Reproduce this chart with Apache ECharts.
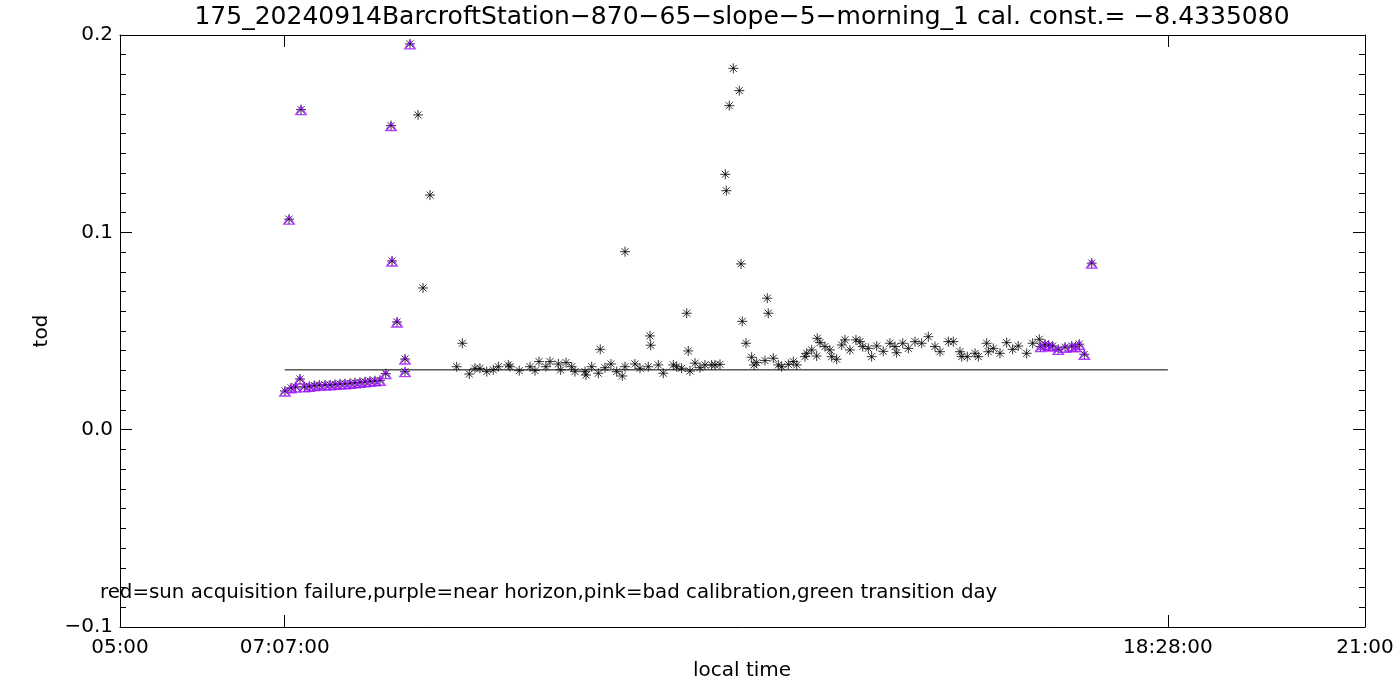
<!DOCTYPE html>
<html>
<head>
<meta charset="utf-8">
<script src="https://cdn.jsdelivr.net/npm/echarts@6/dist/echarts.min.js"></script>
<style>html,body{margin:0;padding:0;background:#fff}#c{width:1400px;height:700px}</style>
</head>
<body>
<div id="c"></div>
<script>
// ---- data (time in decimal hours local time, tod values) ----
const titleText = "175_20240914BarcroftStation\u2212870\u221265\u2212slope\u22125\u2212morning_1 cal. const.= \u22128.4335080";
const noteText = "red=sun acquisition failure,purple=near horizon,pink=bad calibration,green transition day";
const xTickValues = [5, 7.1167, 18.4667, 21];
const xTickLabels = ["05:00", "07:07:00", "18:28:00", "21:00"];
const yTickValues = [-0.1, 0.0, 0.1, 0.2];

const purpleHours = [7.120, 7.172, 7.198, 7.258, 7.313, 7.326, 7.369, 7.433, 7.497, 7.561, 7.634, 7.699, 7.763, 7.827, 7.891, 7.956, 8.020, 8.084, 8.149, 8.213, 8.277, 8.341, 8.415, 8.483, 8.496, 8.560, 8.663, 8.663, 8.727,
  16.832, 16.887, 16.935, 16.986, 17.058, 17.145, 17.231, 17.280, 17.328, 17.393, 17.488];
const purpleTod = [0.0196, 0.1067, 0.0212, 0.0217, 0.0257, 0.1622, 0.0217, 0.0220, 0.0224, 0.0226, 0.0227, 0.0227, 0.0230, 0.0232, 0.0233, 0.0235, 0.0238, 0.0240, 0.0243, 0.0246, 0.0248, 0.0250, 0.0284, 0.1541, 0.0855, 0.0546, 0.0358, 0.0294, 0.1955,
  0.0421, 0.0433, 0.0428, 0.0424, 0.0407, 0.0418, 0.0424, 0.0420, 0.0433, 0.0382, 0.0844];

const blackHours = [8.830, 8.894, 8.984,
  9.327, 9.399, 9.489, 9.562, 9.626, 9.713, 9.797, 9.862, 9.990, 10.012, 10.131, 10.269, 10.333, 10.385, 10.474, 10.526, 10.633, 10.663, 10.732, 10.805, 10.847, 10.976, 10.989,
  11.062, 11.147, 11.172, 11.233, 11.310, 11.383, 11.455, 11.490, 11.490, 11.618, 11.683, 11.789, 11.811, 11.820, 11.918, 11.982,
  12.111, 12.154, 12.218, 12.283, 12.303, 12.325, 12.390, 12.454, 12.518, 12.604, 12.647, 12.711, 12.779, 12.792, 12.830, 12.882, 12.959, 12.981, 12.997,
  13.045, 13.118, 13.148, 13.182, 13.289, 13.318, 13.331, 13.396, 13.460, 13.503, 13.589, 13.653, 13.697, 13.803, 13.825, 13.889, 13.953, 13.961, 13.996,
  14.060, 14.124, 14.146, 14.210, 14.275, 14.317, 14.381, 14.458, 14.510, 14.545, 14.617, 14.660, 14.725, 14.809, 14.895, 14.960, 14.981,
  15.059, 15.131, 15.217, 15.303, 15.388, 15.474, 15.538, 15.645, 15.709, 15.795, 15.817, 15.889, 15.988,
  16.030, 16.138, 16.159, 16.223, 16.309, 16.395, 16.472, 16.544, 16.652, 16.729, 16.814];
const blackTod = [0.1595, 0.0718, 0.1189,
  0.0319, 0.0438, 0.0282, 0.0311, 0.0311, 0.0294, 0.0303, 0.0319, 0.0328, 0.0319, 0.0299, 0.0319, 0.0299, 0.0345, 0.0319, 0.0345, 0.0333, 0.0303, 0.0340, 0.0319, 0.0294, 0.0294, 0.0277,
  0.0319, 0.0286, 0.0407, 0.0314, 0.0333, 0.0294, 0.0272, 0.0902, 0.0319, 0.0333, 0.0311, 0.0319, 0.0475, 0.0428, 0.0328, 0.0286,
  0.0328, 0.0319, 0.0311, 0.0590, 0.0399, 0.0297, 0.0337, 0.0314, 0.0328, 0.0328, 0.0328, 0.0331, 0.1294, 0.1211, 0.1642, 0.1831, 0.1718, 0.0840, 0.0549,
  0.0438, 0.0367, 0.0328, 0.0340, 0.0350, 0.0666, 0.0590, 0.0362, 0.0328, 0.0319, 0.0331, 0.0345, 0.0328, 0.0370, 0.0387, 0.0404, 0.0373, 0.0463, 0.0441,
  0.0421, 0.0404, 0.0370, 0.0357, 0.0429, 0.0455, 0.0404, 0.0455, 0.0446, 0.0421, 0.0412, 0.0370, 0.0424, 0.0397, 0.0438, 0.0421, 0.0390,
  0.0438, 0.0412, 0.0446, 0.0438, 0.0471, 0.0421, 0.0395, 0.0446, 0.0446, 0.0395, 0.0370, 0.0370, 0.0387,
  0.0370, 0.0438, 0.0395, 0.0412, 0.0387, 0.0441, 0.0407, 0.0424, 0.0387, 0.0438, 0.0458];

const refLineHours = [7.1167, 18.4667];
const refLineTod = [0.0303, 0.0303];

// ---- chart ----
const zip = (a, b) => a.map((v, i) => [v, b[i]]);
const font = "DejaVu Sans";
const star = 'path://M5 0L5 10M0 5L10 5M1.5 1.5L8.5 8.5M1.5 8.5L8.5 1.5';
const purple = '#9b10ff';
const xFmt = v => { let best = 0; xTickValues.forEach((t, i) => { if (Math.abs(t - v) < Math.abs(xTickValues[best] - v)) best = i; }); return xTickLabels[best]; };
const yFmt = v => { const s = (Math.abs(v) < 1e-9 ? 0 : v).toFixed(1); return s.replace('-', '\u2212'); };

const axisLineStyle = { show: true, onZero: false, lineStyle: { color: '#000', width: 1 } };
const chart = echarts.init(document.getElementById('c'), null, { renderer: 'canvas' });
chart.setOption({
  animation: false,
  backgroundColor: '#fff',
  grid: { left: 120, right: 35, top: 35, bottom: 73 },
  xAxis: [
    { type: 'value', min: 5, max: 21, position: 'bottom',
      axisLine: axisLineStyle,
      axisTick: { show: true, inside: true, length: 12, customValues: xTickValues, lineStyle: { color: '#000' } },
      axisLabel: { show: true, customValues: xTickValues, formatter: xFmt, margin: 11, color: '#000', fontFamily: font, fontSize: 20 },
      splitLine: { show: false } },
    { type: 'value', min: 5, max: 21, position: 'top',
      axisLine: axisLineStyle,
      axisTick: { show: true, inside: true, length: 12, customValues: xTickValues, lineStyle: { color: '#000' } },
      axisLabel: { show: false }, splitLine: { show: false } }
  ],
  yAxis: [
    { type: 'value', min: -0.1, max: 0.2, interval: 0.1, position: 'left',
      axisLine: axisLineStyle,
      axisTick: { show: true, inside: true, length: 12, lineStyle: { color: '#000' } },
      minorTick: { show: true, splitNumber: 10, length: 6, lineStyle: { color: '#000' } },
      axisLabel: { formatter: yFmt, margin: 7, color: '#000', fontFamily: font, fontSize: 20 },
      splitLine: { show: false } },
    { type: 'value', min: -0.1, max: 0.2, interval: 0.1, position: 'right',
      axisLine: axisLineStyle,
      axisTick: { show: true, inside: true, length: 12, lineStyle: { color: '#000' } },
      minorTick: { show: true, splitNumber: 10, length: 6, lineStyle: { color: '#000' } },
      axisLabel: { show: false }, splitLine: { show: false } }
  ],
  graphic: [
    { type: 'text', x: 742, y: 17, style: { text: titleText, font: '25px "DejaVu Sans"', fill: '#000', textAlign: 'center', textVerticalAlign: 'middle' } },
    { type: 'text', x: 100, y: 593, style: { text: noteText, font: '19.8px "DejaVu Sans"', fill: '#000', textAlign: 'left', textVerticalAlign: 'middle' } },
    { type: 'text', x: 742, y: 671, style: { text: 'local time', font: '20px "DejaVu Sans"', fill: '#000', textAlign: 'center', textVerticalAlign: 'middle' } },
    { type: 'text', x: 42, y: 331, rotation: Math.PI / 2, style: { text: 'tod', font: '20px "DejaVu Sans"', fill: '#000', textAlign: 'center', textVerticalAlign: 'middle' } }
  ],
  series: [
    { type: 'line', data: zip(refLineHours, refLineTod), symbol: 'none', lineStyle: { color: '#000', width: 1 }, silent: true, z: 2 },
    { type: 'scatter', data: zip(blackHours, blackTod), symbol: star, symbolSize: 10,
      itemStyle: { color: 'none', borderColor: '#000', borderWidth: 1 }, z: 3 },
    { type: 'scatter', data: zip(purpleHours, purpleTod), symbol: star, symbolSize: 10,
      itemStyle: { color: 'none', borderColor: '#000', borderWidth: 1 }, z: 3 },
    { type: 'scatter', data: zip(purpleHours, purpleTod), symbol: 'triangle', symbolSize: [10, 8], symbolOffset: [0, 1],
      itemStyle: { color: 'none', borderColor: purple, borderWidth: 1.6 }, z: 4 }
  ]
});
</script>
</body>
</html>
